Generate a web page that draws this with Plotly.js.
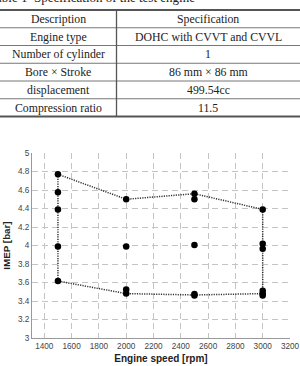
<!DOCTYPE html>
<html>
<head>
<meta charset="utf-8">
<script src="https://cdn.plot.ly/plotly-3.0.1.min.js"></script>
<style>
html,body{margin:0;padding:0;background:#fff;}
#chart{width:300px;height:366px;}
</style>
</head>
<body>
<div id="chart"></div>
<script>
// ---- Data ----
var tableCaption = "Table 1  Specification of the test engine";
var tableHeader = ["Description", "Specification"];
var descriptions = ["Engine type", "Number of cylinder", "Bore × Stroke", "displacement", "Compression ratio"];
var specifications = ["DOHC with CVVT and CVVL", "1", "86 mm × 86 mm", "499.54cc", "11.5"];

var pointSpeed = [1500,1500,1500,1500,1500, 2000,2000,2000,2000, 2500,2500,2500,2500,2500, 3000,3000,3000,3000,3000,3000];
var pointIMEP  = [4.77,4.575,4.39,3.99,3.616, 4.50,3.99,3.525,3.48, 4.56,4.50,4.005,3.475,3.46, 4.39,4.02,3.965,3.51,3.48,3.46];

var envSpeed = [1500, 2000, 2500, 3000, 3000, 2500, 2000, 1500, 1500];
var envIMEP  = [4.77, 4.50, 4.56, 4.39, 3.48, 3.465, 3.48, 3.616, 4.77];

var xTicks = [1400,1600,1800,2000,2200,2400,2600,2800,3000,3200];
var yTicks = [3,3.2,3.4,3.6,3.8,4,4.2,4.4,4.6,4.8,5];

// ---- Layout helpers (pixel -> paper) ----
var L = 32, R = 290, T = 153, B = 338;
function PX(px){ return (px - L) / (R - L); }
function PY(py){ return (B - py) / (B - T); }

var serif = "Liberation Serif, Times New Roman, serif";
var sans = "Liberation Sans, Arial, sans-serif";

var shapes = [];
var annotations = [];
var tTop = 10, rowH = 17.75, nRows = descriptions.length + 1;
var tBot = tTop + nRows * rowH;
var divX = 116.5;

shapes.push({type:'line', xref:'paper', yref:'paper', x0:PX(-5), x1:PX(305), y0:PY(tTop), y1:PY(tTop), line:{color:'#555', width:2}});
for (var i = 1; i < nRows; i++) {
  var yy = tTop + i * rowH;
  shapes.push({type:'line', xref:'paper', yref:'paper', x0:PX(-5), x1:PX(305), y0:PY(yy), y1:PY(yy), line:{color:'#777', width:1}});
}
shapes.push({type:'line', xref:'paper', yref:'paper', x0:PX(-5), x1:PX(305), y0:PY(tBot), y1:PY(tBot), line:{color:'#555', width:2}});
shapes.push({type:'line', xref:'paper', yref:'paper', x0:PX(divX), x1:PX(divX), y0:PY(tTop), y1:PY(tBot), line:{color:'#555', width:1.3}});

var leftCol = [tableHeader[0]].concat(descriptions);
var rightCol = [tableHeader[1]].concat(specifications);
for (var r = 0; r < nRows; r++) {
  var cy = tTop + (r + 0.5) * rowH;
  annotations.push({xref:'paper', yref:'paper', x:PX(58), y:PY(cy), text:leftCol[r], showarrow:false, xanchor:'center', yanchor:'middle', font:{family:serif, size:11.8, color:'#222'}});
  annotations.push({xref:'paper', yref:'paper', x:PX(208), y:PY(cy), text:rightCol[r], showarrow:false, xanchor:'center', yanchor:'middle', font:{family:serif, size:11.8, color:'#222'}});
}
annotations.push({xref:'paper', yref:'paper', x:PX(197), y:PY(-3), text:tableCaption, showarrow:false, xanchor:'right', yanchor:'middle', font:{family:serif, size:13, color:'#222'}});

var traces = [
  {x:envSpeed, y:envIMEP, mode:'lines', line:{color:'#333', width:1.5, dash:'1.2px,1.2px'}, hoverinfo:'skip'},
  {x:pointSpeed, y:pointIMEP, mode:'markers', marker:{color:'#000', size:6.5}}
];

var layout = {
  width:300, height:366,
  margin:{l:L, r:300-R, t:T, b:366-B, pad:0},
  paper_bgcolor:'#fff', plot_bgcolor:'#fff',
  showlegend:false,
  xaxis:{
    range:[1310, 3200], tickmode:'array', tickvals:xTicks, ticktext:xTicks.map(String),
    showgrid:true, gridcolor:'#c4c4c4', griddash:'6px,4px', gridwidth:1,
    zeroline:false, showline:true, linecolor:'#999', linewidth:1, ticks:'',
    tickfont:{family:sans, size:8.2, color:'#444'},
    title:{text:'Engine speed [rpm]', font:{family:sans, size:10, color:'#222', weight:'bold'}, standoff:5}
  },
  yaxis:{
    range:[3, 5], tickmode:'array', tickvals:yTicks, ticktext:yTicks.map(String),
    showgrid:true, gridcolor:'#c4c4c4', griddash:'6px,4px', gridwidth:1,
    zeroline:false, showline:true, linecolor:'#999', linewidth:1, ticks:'',
    tickfont:{family:sans, size:8.2, color:'#444'},
    title:{text:'IMEP [bar]', font:{family:sans, size:9.8, color:'#222', weight:'bold'}, standoff:5}
  },
  shapes:shapes,
  annotations:annotations
};

Plotly.newPlot('chart', traces, layout, {staticPlot:true, displayModeBar:false});
</script>
</body>
</html>
